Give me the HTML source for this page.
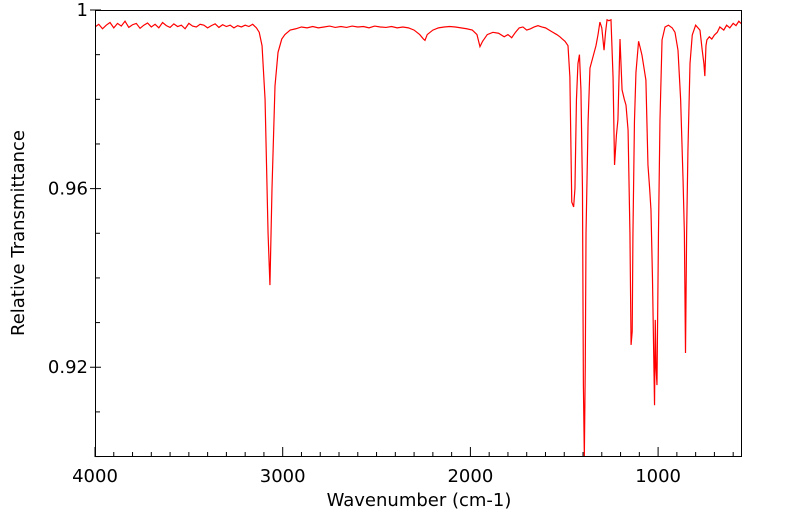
<!DOCTYPE html>
<html><head><meta charset="utf-8"><style>
body{margin:0;background:#fff;}
svg{display:block;font-family:"DejaVu Sans","Liberation Sans",sans-serif;}
</style></head><body>
<svg id="chart" width="799" height="516" viewBox="0 0 799 516"></svg>
<script>
const xTickLabels=[4000,3000,2000,1000];
const yTickLabels=[1,0.96,0.92];
const wavenumbers=[4000,3980,3960,3940,3920,3900,3880,3860,3840,3820,3800,3780,3760,3740,3720,3700,3680,3660,3640,3620,3600,3580,3560,3540,3520,3500,3480,3460,3440,3420,3400,3380,3360,3340,3320,3300,3280,3260,3240,3220,3200,3180,3160,3140,3125,3110,3094,3078,3068,3057,3041,3025,3005,2988,2960,2930,2900,2870,2840,2810,2780,2750,2720,2690,2660,2630,2600,2570,2540,2510,2480,2450,2420,2390,2360,2330,2300,2270,2250,2242,2230,2200,2170,2140,2110,2080,2050,2020,1990,1965,1949,1935,1910,1880,1850,1820,1800,1780,1760,1740,1720,1700,1680,1660,1640,1620,1600,1580,1560,1540,1523,1510,1496,1480,1470,1460,1450,1443,1435,1427,1419,1411,1403,1398,1393,1388,1384,1373,1363,1347,1331,1320,1310,1300,1288,1280,1272,1262,1251,1240,1232,1222,1214,1203,1192,1180,1171,1160,1150,1144,1138,1134,1126,1118,1104,1095,1086,1075,1065,1054,1045,1038,1030,1019,1015,1011,1006,998,990,979,963,945,925,910,894,880,867,860,854,848,841,830,818,800,777,765,756,751,745,740,727,714,700,685,671,650,635,618,600,585,570,553];
const transmittance=[0.9962,0.9968,0.9958,0.9966,0.9972,0.9960,0.9970,0.9964,0.9975,0.9961,0.9967,0.9970,0.9959,0.9966,0.9971,0.9962,0.9968,0.9960,0.9972,0.9965,0.9961,0.9969,0.9963,0.9966,0.9958,0.9970,0.9964,0.9962,0.9968,0.9966,0.9960,0.9965,0.9969,0.9961,0.9967,0.9963,0.9966,0.9960,0.9965,0.9962,0.9966,0.9963,0.9968,0.9960,0.9950,0.9920,0.9800,0.9500,0.9384,0.9600,0.9830,0.9905,0.9935,0.9945,0.9955,0.9958,0.9962,0.9960,0.9963,0.9960,0.9962,0.9964,0.9961,0.9963,0.9961,0.9964,0.9962,0.9963,0.9960,0.9964,0.9962,0.9961,0.9963,0.9960,0.9962,0.9960,0.9955,0.9945,0.9935,0.9932,0.9945,0.9955,0.9960,0.9962,0.9963,0.9962,0.9960,0.9958,0.9955,0.9945,0.9918,0.9930,0.9945,0.9950,0.9948,0.9940,0.9945,0.9938,0.9950,0.9960,0.9962,0.9955,0.9958,0.9962,0.9965,0.9962,0.9960,0.9955,0.9950,0.9945,0.9940,0.9935,0.9930,0.9920,0.9850,0.9570,0.9559,0.9600,0.9800,0.9880,0.9900,0.9820,0.9600,0.9160,0.8999,0.9200,0.9500,0.9750,0.9870,0.9895,0.9920,0.9945,0.9973,0.9960,0.9910,0.9950,0.9978,0.9976,0.9978,0.9850,0.9653,0.9720,0.9754,0.9935,0.9821,0.9800,0.9787,0.9731,0.9500,0.9250,0.9280,0.9500,0.9750,0.9860,0.9930,0.9915,0.9899,0.9870,0.9843,0.9653,0.9600,0.9552,0.9400,0.9115,0.9306,0.9200,0.9160,0.9500,0.9754,0.9933,0.9962,0.9966,0.9960,0.9950,0.9910,0.9800,0.9619,0.9500,0.9232,0.9500,0.9686,0.9880,0.9944,0.9966,0.9955,0.9910,0.9880,0.9852,0.9920,0.9933,0.9940,0.9935,0.9944,0.9950,0.9962,0.9955,0.9966,0.9960,0.9970,0.9965,0.9975,0.9968,0.9985];
const X0=95,X1=742,Y0=10,Y1=457,WN0=4000,WN1=553,T0=1,T1=0.8999;
function xs(w){return X0+(WN0-w)/(WN0-WN1)*(X1-X0);}
function ys(t){return Y0+(T0-t)/(T0-T1)*(Y1-Y0);}
const NS='http://www.w3.org/2000/svg';
const svg=document.getElementById('chart');
function mk(tag,attrs){const e=document.createElementNS(NS,tag);for(const k in attrs)e.setAttribute(k,attrs[k]);svg.appendChild(e);return e;}
const defs=mk('defs',{});
defs.innerHTML='<clipPath id="pc"><rect x="95" y="10" width="647" height="447"/></clipPath>';
let d='';
wavenumbers.forEach((w,i)=>{d+=(i?'L':'M')+xs(w).toFixed(2)+','+ys(transmittance[i]).toFixed(2);});
const line=mk('path',{d:d,fill:'none',stroke:'#ff0000','stroke-width':1.2,'clip-path':'url(#pc)'});


const fr=mk('rect',{x:95.5,y:10.5,width:646,height:446,fill:'none',stroke:'#000','stroke-width':1});


for(let w=4000;w>=600;w-=100){
  const x=xs(w);const major=w%1000===0;
  const t=mk('line',{x1:x,x2:x,y1:457,y2:major?447:452,stroke:'#000','stroke-width':1});
  
  
}
xTickLabels.forEach(v=>{
  const t=mk('text',{x:xs(v),y:482,'text-anchor':'middle','font-size':18,fill:'#000'});
  t.textContent=String(v);
  
  
});
for(let k=0;k<=10;k++){
  const v=1-k*0.01;const y=ys(v);const major=(k%4===0);
  const t=mk('line',{x1:major?90:95,x2:major?101:100,y1:y,y2:y,stroke:'#000','stroke-width':1});
  
  
}
yTickLabels.forEach(v=>{
  const t=mk('text',{x:88,y:ys(v)+6,'text-anchor':'end','font-size':18,fill:'#000'});
  t.textContent=String(v);
  
  
});
const xt=mk('text',{x:419,y:506,'text-anchor':'middle','font-size':18,fill:'#000'});
xt.textContent='Wavenumber (cm-1)';


const yt=mk('text',{x:0,y:0,'text-anchor':'middle','font-size':18,fill:'#000',transform:'translate(24,233) rotate(-90)'});
yt.textContent='Relative Transmittance';


</script>
</body></html>
